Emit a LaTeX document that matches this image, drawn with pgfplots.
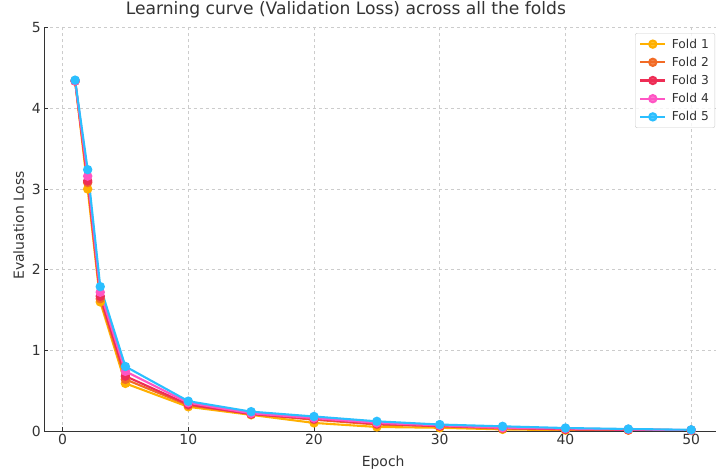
\documentclass[border=0pt]{standalone}
\usepackage{fontspec}
\setmainfont{DejaVu Sans}
\usepackage{pgfplots}
\pgfplotsset{compat=1.18}
\definecolor{fa}{HTML}{FFB000}
\definecolor{fb}{HTML}{F26B25}
\definecolor{fc}{HTML}{EE2D55}
\definecolor{fd}{HTML}{FF55C4}
\definecolor{fe}{HTML}{2BBFFF}
\definecolor{txt}{HTML}{333333}
\definecolor{gridc}{HTML}{CCCCCC}
\begin{document}
\begin{tikzpicture}
\path[use as bounding box] (0,0) rectangle (716bp,472bp);
\begin{axis}[
  at={(44.3bp,41bp)}, anchor=south west,
  scale only axis, width=677.7bp, height=403.3bp,
  xmin=-1.45, xmax=52.45, ymin=0, ymax=5,
  xtick={0,10,20,30,40,50}, ytick={0,1,2,3,4,5},
  axis x line*=bottom, axis y line*=left,
  axis line style={color=txt, line width=0.9bp, -},
  tick align=inside, major tick length=4bp,
  tick style={color=txt, line width=0.8bp},
  xtick pos=bottom, ytick pos=left,
  grid=major, grid style={dashed, color=gridc, line width=0.6bp},
  /pgf/number format/assume math mode=true,
  ticklabel style={font=\fontsize{14}{16}\selectfont, color=txt},
  title={Learning curve (Validation Loss) across all the folds},
  title style={font=\fontsize{17.2}{20}\selectfont, color=txt, at={(axis description cs:0.445,1)}, anchor=base, yshift=7.5bp},
  xlabel={Epoch},
  xlabel style={font=\fontsize{14}{16}\selectfont, color=txt, at={(axis description cs:0.5,-0.0868)}, anchor=base},
  ylabel={Evaluation Loss},
  ylabel style={font=\fontsize{14}{16}\selectfont, color=txt, at={(axis description cs:-0.03,0.51)}, anchor=base, rotate=0},
  every axis plot/.append style={line width=2.1bp, mark=*, mark size=3.6bp, mark options={solid}},
  legend style={at={(rel axis cs:0.9897,0.9868)}, anchor=north east, draw=gridc, rounded corners=2bp, fill=white, fill opacity=0.8, text opacity=1, font=\fontsize{12.3}{14}\selectfont, text=txt, row sep=3.4bp, inner xsep=4bp, inner ysep=3.5bp, /tikz/every odd column/.append style={column sep=3.5bp}},
  legend cell align=left,
  legend image code/.code={\draw[line width=2.1bp, mark=*, mark size=3.6bp, mark repeat=2,mark phase=2,#1] plot coordinates {(0bp,0bp) (12.5bp,0bp) (25bp,0bp)};},
]
\addplot[color=fa] coordinates {(1,4.34) (2,3.00) (3,1.60) (5,0.59) (10,0.30) (15,0.20) (20,0.10) (25,0.05) (30,0.04) (35,0.02) (40,0.01) (45,0.01) (50,0.005)};
\addlegendentry{Fold 1}
\addplot[color=fb] coordinates {(1,4.34) (2,3.08) (3,1.64) (5,0.64) (10,0.32) (15,0.21) (20,0.14) (25,0.08) (30,0.06) (35,0.03) (40,0.02) (45,0.015) (50,0.01)};
\addlegendentry{Fold 2}
\addplot[color=fc] coordinates {(1,4.34) (2,3.10) (3,1.67) (5,0.68) (10,0.33) (15,0.21) (20,0.15) (25,0.09) (30,0.06) (35,0.04) (40,0.02) (45,0.015) (50,0.01)};
\addlegendentry{Fold 3}
\addplot[color=fd] coordinates {(1,4.34) (2,3.16) (3,1.72) (5,0.74) (10,0.35) (15,0.22) (20,0.16) (25,0.10) (30,0.07) (35,0.04) (40,0.03) (45,0.02) (50,0.01)};
\addlegendentry{Fold 4}
\addplot[color=fe] coordinates {(1,4.35) (2,3.24) (3,1.79) (5,0.80) (10,0.37) (15,0.24) (20,0.18) (25,0.12) (30,0.08) (35,0.058) (40,0.037) (45,0.025) (50,0.015)};
\addlegendentry{Fold 5}
\end{axis}
\end{tikzpicture}
\end{document}
